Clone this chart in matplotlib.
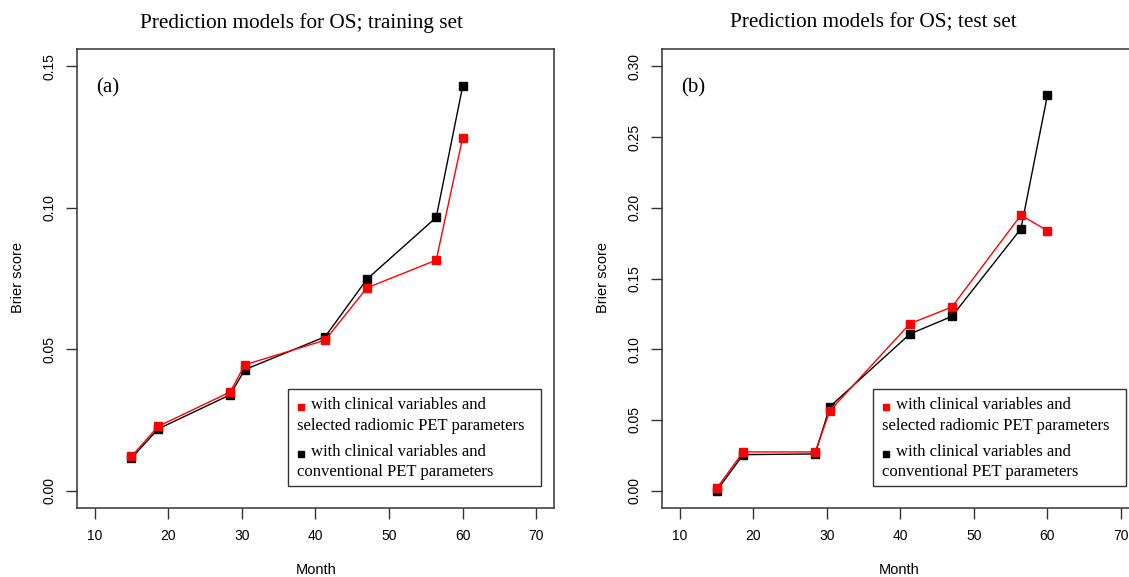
import numpy as np
import matplotlib
matplotlib.use("Agg")
import matplotlib.pyplot as plt
from matplotlib.patches import Rectangle
from matplotlib.lines import Line2D

# Data (months and Brier scores)
month = [15, 18.6, 28.4, 30.4, 41.3, 47, 56.4, 60]

train_radiomic = [0.0121, 0.0227, 0.0349, 0.0445, 0.0532, 0.0717, 0.0815, 0.1248]
train_conventional = [0.0115, 0.0218, 0.0339, 0.0428, 0.0544, 0.0748, 0.0966, 0.1430]

test_radiomic = [0.0017, 0.0274, 0.0274, 0.0565, 0.1181, 0.1298, 0.1948, 0.1838]
test_conventional = [0.0000, 0.0255, 0.0260, 0.0594, 0.1108, 0.1232, 0.1851, 0.2794]

x_ticks = [10, 20, 30, 40, 50, 60, 70]
y_ticks_train = [0.00, 0.05, 0.10, 0.15]
y_ticks_test = [0.00, 0.05, 0.10, 0.15, 0.20, 0.25, 0.30]

label_radiomic = "with clinical variables and\nselected radiomic PET parameters"
label_conventional = "with clinical variables and\nconventional PET parameters"

serif = "Liberation Serif"
sans = "Liberation Sans"

W, H = 1129, 577
fig = plt.figure(figsize=(W / 100, H / 100), dpi=100)

def px_box(left, top, right, bottom):
    return [left / W, 1 - bottom / H, (right - left) / W, (bottom - top) / H]

ax_a = fig.add_axes(px_box(77, 49.3, 554, 507.7))
ax_b = fig.add_axes(px_box(662.3, 49.3, 1138.5, 507.7))


def draw_panel(ax, y_conv, y_rad, yticks, ymax, tag):
    ax.plot(month, y_conv, color="black", lw=1, marker="s", ms=5.2,
            mec="black", mfc="black")
    ax.plot(month, y_rad, color="red", lw=1, marker="s", ms=5.2,
            mec="red", mfc="red")

    # R style: 4% padding around the nominal limits
    ax.set_xlim(10 - 2.4, 70 + 2.4)
    ax.set_ylim(-0.04 * ymax, ymax * 1.04)
    ax.set_xticks(x_ticks)
    ax.set_yticks(yticks)
    ax.set_xticklabels([str(t) for t in x_ticks], fontfamily=sans, fontsize=10)
    ax.set_yticklabels(["%.2f" % t for t in yticks], fontfamily=sans,
                       fontsize=10, rotation=90, va="center", ha="right")
    ax.tick_params(direction="out", length=8, width=1, pad=7, color="#333333")
    for s in ax.spines.values():
        s.set_color("#333333")
        s.set_linewidth(1.1)

    ax.text(0.065, 0.915, tag, transform=ax.transAxes, fontfamily=serif,
            fontsize=15, ha="center", va="center")

    # legend box drawn by hand (R style, key only on first line)
    ax.add_patch(Rectangle((0.4424, 0.0473), 0.5308, 0.2116,
                           transform=ax.transAxes, fill=False,
                           edgecolor="#333333", lw=1, zorder=5))
    rows = [(0.2232, 0.1782, "red", label_radiomic),
            (0.1215, 0.0768, "black", label_conventional)]
    for y1, y2, c, lab in rows:
        first, second = lab.split("\n")
        ax.add_line(Line2D([0.4705], [y1 - 0.004], transform=ax.transAxes,
                           marker="s", ms=4.6, color=c, ls="none", zorder=6))
        ax.text(0.4902, y1, first, transform=ax.transAxes, fontfamily=serif,
                fontsize=12, ha="left", va="center")
        ax.text(0.4611, y2, second, transform=ax.transAxes, fontfamily=serif,
                fontsize=12, ha="left", va="center")


draw_panel(ax_a, train_conventional, train_radiomic, y_ticks_train, 0.15, "(a)")
draw_panel(ax_b, test_conventional, test_radiomic, y_ticks_test, 0.30, "(b)")

fig.text(301 / W, 1 - 23 / H, "Prediction models for OS; training set",
         fontfamily=serif, fontsize=15.3, ha="center", va="center")
fig.text(873 / W, 1 - 23 / H, "Prediction models for OS; test set",
         fontfamily=serif, fontsize=15.3, ha="center", va="center")

fig.text(316 / W, 1 - 570 / H, "Month", fontfamily=sans, fontsize=10.5,
         ha="center", va="center")
fig.text(899 / W, 1 - 570 / H, "Month", fontfamily=sans, fontsize=10.5,
         ha="center", va="center")
fig.text(18 / W, 1 - 278 / H, "Brier score", fontfamily=sans, fontsize=10.5,
         rotation=90, ha="center", va="center")
fig.text(603 / W, 1 - 278 / H, "Brier score", fontfamily=sans, fontsize=10.5,
         rotation=90, ha="center", va="center")

fig.savefig("out.png", dpi=100)
